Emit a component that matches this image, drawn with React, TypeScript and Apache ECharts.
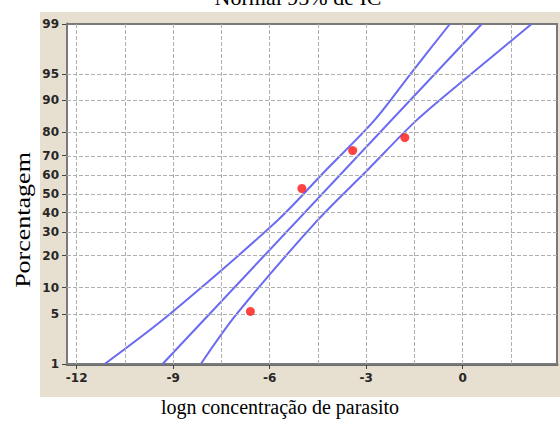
import { useEffect, useRef } from "react";
import * as echarts from "echarts";

// Axis ticks and grid positions
const xTicks = [-12, -9, -6, -3, 0];
const xGridLines = [-12, -10.5, -9, -7.5, -6, -4.5, -3, -1.5, 0, 1.5];
const pctTicks = [1, 5, 10, 20, 30, 40, 50, 60, 70, 80, 90, 95, 99];

// Observed responses (logn concentration, percent)
const doseX = [-6.6, -5.0, -3.42, -1.8];
const responsePct = [5.4, 53, 72.4, 78];

// Fitted probit line
const fitX = [-9.33, 0.59];
const fitPct = [1, 99];

// 95% confidence bounds
const lowerX = [-11.13, -9.11, -5.75, -4.24, -2.74, -1.62, -0.4];
const lowerPct = [1, 5, 36, 63, 84.4, 95, 99];
const upperX = [-8.14, -7.03, -4.51, -2.95, -1.43, 0.27, 2.14];
const upperPct = [1, 5, 36, 63, 84.4, 95, 99];

// Inverse standard normal CDF (Acklam's rational approximation)
function probit(p: number): number {
  const a = [-39.69683028665376, 220.9460984245205, -275.9285104469687, 138.357751867269, -30.66479806614716, 2.506628277459239];
  const b = [-54.47609879822406, 161.5858368580409, -155.6989798598866, 66.80131188771972, -13.28068155288572];
  const c = [-0.007784894002430293, -0.3223964580411365, -2.400758277161838, -2.549732539343734, 4.374664141464968, 2.938163982698783];
  const d = [0.007784695709041462, 0.3224671290700398, 2.445134137142996, 3.754408661907416];
  const pl = 0.02425;
  if (p < pl) {
    const q = Math.sqrt(-2 * Math.log(p));
    return (((((c[0] * q + c[1]) * q + c[2]) * q + c[3]) * q + c[4]) * q + c[5]) / ((((d[0] * q + d[1]) * q + d[2]) * q + d[3]) * q + 1);
  }
  if (p <= 1 - pl) {
    const q = p - 0.5;
    const r = q * q;
    return ((((((a[0] * r + a[1]) * r + a[2]) * r + a[3]) * r + a[4]) * r + a[5]) * q) / (((((b[0] * r + b[1]) * r + b[2]) * r + b[3]) * r + b[4]) * r + 1);
  }
  const q = Math.sqrt(-2 * Math.log(1 - p));
  return -(((((c[0] * q + c[1]) * q + c[2]) * q + c[3]) * q + c[4]) * q + c[5]) / ((((d[0] * q + d[1]) * q + d[2]) * q + d[3]) * q + 1);
}
const zOf = (pct: number) => probit(pct / 100);
const pctLabel = (v: number) => {
  let best = pctTicks[0];
  for (const p of pctTicks) if (Math.abs(zOf(p) - v) < Math.abs(zOf(best) - v)) best = p;
  return String(best);
};

const pairs = (xs: number[], ps: number[]) => xs.map((x, i) => [x, zOf(ps[i])]);

const BLUE = "#6a6af2";
const tickFont = { fontFamily: "DejaVu Sans", fontWeight: "bold" as const, fontSize: 12, color: "#262626" };

export default function App() {
  const ref = useRef<HTMLDivElement>(null);
  useEffect(() => {
    if (!ref.current) return;
    const chart = echarts.init(ref.current, undefined, { renderer: "svg" });
    chart.setOption({
      animation: false,
      backgroundColor: "#ffffff",
      grid: {
        left: 67,
        right: 3,
        top: 24,
        bottom: 57,
        show: true,
        backgroundColor: "#ffffff",
        borderColor: "#7a7a7a",
        borderWidth: 2,
        z: 2,
      },
      graphic: [
        {
          type: "rect",
          z: -10,
          shape: { x: 40, y: 12, width: 520, height: 385 },
          style: { fill: "#e7dfd0" },
          silent: true,
        },
        {
          type: "text",
          x: 298,
          y: 8,
          style: {
            text: "Normal 95% de IC",
            font: '22px "Liberation Serif"',
            fill: "#000",
            textAlign: "center",
            textVerticalAlign: "bottom",
          },
        },
        {
          type: "text",
          x: 280,
          y: 407,
          style: {
            text: "logn concentração de parasito",
            font: '20px "Liberation Serif"',
            fill: "#000",
            textAlign: "center",
            textVerticalAlign: "middle",
          },
        },
        {
          type: "text",
          x: 23,
          y: 220,
          rotation: Math.PI / 2,
          scaleX: 1.3,
          style: {
            text: "Porcentagem",
            font: '20px "Liberation Serif"',
            fill: "#000",
            textAlign: "center",
            textVerticalAlign: "middle",
          },
        },
      ],
      xAxis: {
        type: "value",
        min: -12.3,
        max: 2.93,
        axisLine: { show: true, onZero: false, lineStyle: { color: "#6a6a6a", width: 3 } },
        axisTick: { show: true, customValues: xTicks, length: 5, lineStyle: { color: "#444" } },
        axisLabel: { ...tickFont, margin: 8, customValues: xTicks, formatter: (v: number) => String(v) },
        splitLine: { show: false },
      },
      yAxis: {
        type: "value",
        min: zOf(1),
        max: zOf(99),
        axisLine: { show: true, onZero: false, lineStyle: { color: "#6a6a6a", width: 3 } },
        axisTick: { show: true, customValues: pctTicks.map(zOf), length: 5, lineStyle: { color: "#444" } },
        axisLabel: { ...tickFont, margin: 8, customValues: pctTicks.map(zOf), formatter: pctLabel },
        splitLine: { show: false },
      },
      series: [
        {
          type: "line",
          data: [],
          z: 3,
          markLine: {
            silent: true,
            symbol: ["none", "none"],
            label: { show: false },
            lineStyle: { type: [4, 2], color: "#b0b0b0", width: 1 },
            data: [
              ...xGridLines.map((v) => ({ xAxis: v })),
              ...pctTicks.filter((p) => p > 1 && p < 99).map((p) => ({ yAxis: zOf(p) })),
            ],
          },
        },
        {
          type: "line",
          data: pairs(lowerX, lowerPct),
          smooth: 0.3,
          showSymbol: false,
          z: 4,
          lineStyle: { color: BLUE, width: 2 },
        },
        {
          type: "line",
          data: pairs(fitX, fitPct),
          showSymbol: false,
          z: 4,
          lineStyle: { color: BLUE, width: 2 },
        },
        {
          type: "line",
          data: pairs(upperX, upperPct),
          smooth: 0.3,
          showSymbol: false,
          z: 4,
          lineStyle: { color: BLUE, width: 2 },
        },
        {
          type: "scatter",
          data: pairs(doseX, responsePct),
          symbolSize: 9,
          z: 5,
          itemStyle: { color: "#ff1414" },
        },
      ],
    });
    return () => chart.dispose();
  }, []);
  return (
    <div
      ref={ref}
      style={{ position: "absolute", left: 0, top: 0, width: 560, height: 421 }}
    />
  );
}
